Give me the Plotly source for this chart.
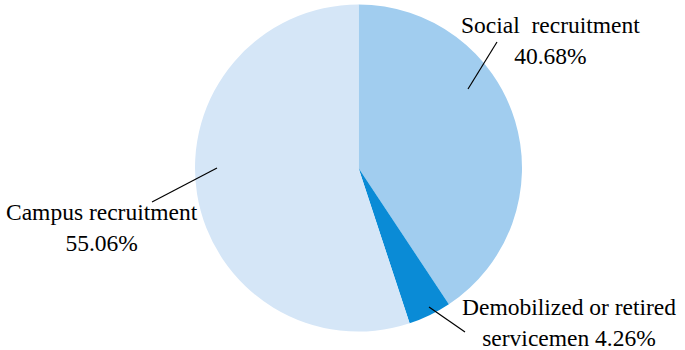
import plotly.graph_objects as go

W, H = 685, 350

categories = ["Social recruitment", "Demobilized or retired servicemen", "Campus recruitment"]
values = [40.68, 4.26, 55.06]
colors = ["#a1cdef", "#0a8bd6", "#d5e6f7"]

# label layout (pixel positions): text lines, center x, middle y of the text block
label_lines = [
    ["Social  recruitment", "40.68%"],
    ["Demobilized or retired", "servicemen 4.26%"],
    ["Campus recruitment", "55.06%"],
]
label_pos = [(550, 41), (569, 322), (102, 227)]
leader = [((468, 89), (497, 42)), ((429, 307), (465, 332)), ((217, 168), (152, 202))]

cx, cy, r = 358.5, 168, 163.5

def px(x):
    return x / W

def py(y):
    return 1 - y / H

fig = go.Figure(go.Pie(
    labels=categories,
    values=values,
    sort=False,
    direction="clockwise",
    rotation=0,
    marker=dict(colors=colors, line=dict(width=0)),
    textinfo="none",
    hoverinfo="label+percent",
    showlegend=False,
    domain=dict(x=[px(cx - r), px(cx + r)], y=[py(cy + r), py(cy - r)]),
))

font = dict(family="Liberation Serif", size=23.5, color="#000000")
annotations = []
for lines, (x, y) in zip(label_lines, label_pos):
    annotations.append(dict(
        x=px(x), y=py(y), xref="paper", yref="paper",
        text="<br>".join(lines), showarrow=False,
        xanchor="center", yanchor="middle", align="center", font=font,
    ))

shapes = []
for (x0, y0), (x1, y1) in leader:
    shapes.append(dict(type="line", xref="paper", yref="paper",
                       x0=px(x0), y0=py(y0), x1=px(x1), y1=py(y1),
                       line=dict(color="#000000", width=1.2)))

fig.update_layout(
    width=W, height=H,
    margin=dict(l=0, r=0, t=0, b=0),
    paper_bgcolor="white", plot_bgcolor="white",
    font=dict(family="Liberation Serif"),
    annotations=annotations, shapes=shapes,
)

fig.write_html(
    "out.html",
    config={"displayModeBar": False},
    post_script="document.body.style.margin='0';document.body.style.overflow='hidden';",
)
